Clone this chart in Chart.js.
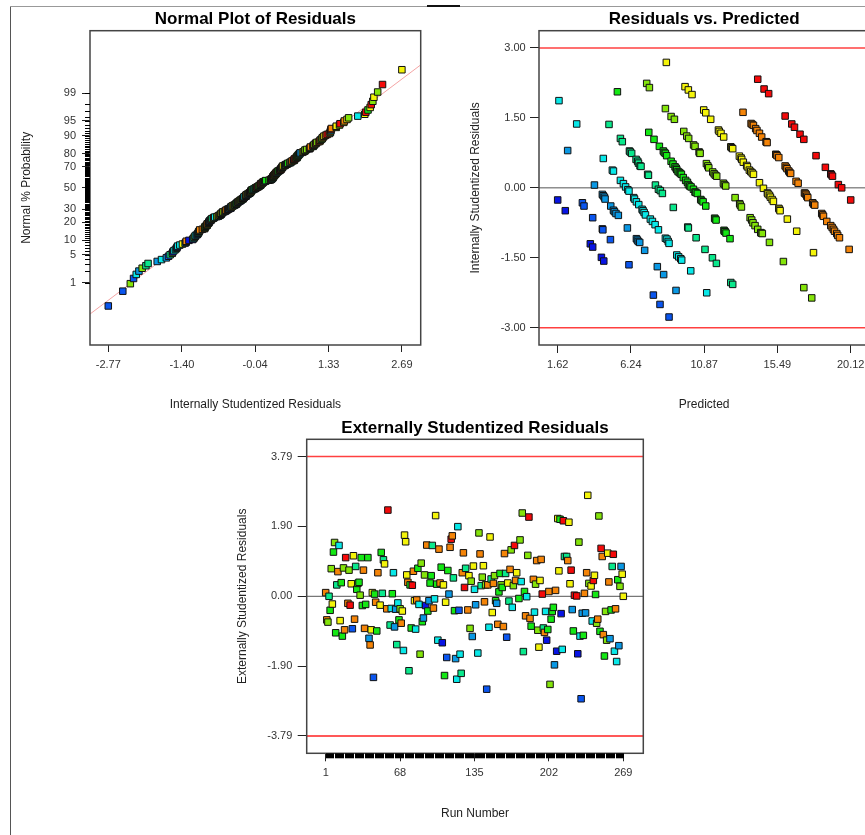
<!DOCTYPE html>
<html>
<head>
<meta charset="utf-8">
<script src="https://cdn.jsdelivr.net/npm/chart.js@4.4.1/dist/chart.umd.min.js"></script>
<style>
  html, body { margin: 0; padding: 0; background: #fff; overflow: hidden; }
  body { width: 865px; height: 835px; position: relative; }
  canvas { position: absolute; }
  .edge-left { position: absolute; left: 10px; top: 6px; width: 0; height: 829px; border-left: 1px solid #555; }
  .edge-top { position: absolute; left: 10px; top: 6px; width: 855px; height: 0; border-top: 1px solid #999; }
  .edge-mark { position: absolute; left: 427px; top: 5px; width: 33px; height: 2px; background: #111; }
</style>
</head>
<body>
<div class="edge-left"></div>
<div class="edge-top"></div>
<div class="edge-mark"></div>
<canvas id="normalChart" width="440" height="420" style="left:0;top:0;width:440px;height:420px"></canvas>
<canvas id="predChart" width="440" height="420" style="left:440px;top:0;width:440px;height:420px"></canvas>
<canvas id="runChart" width="430" height="425" style="left:230px;top:410px;width:430px;height:425px"></canvas>
<script>
// Colour of each response band (low -> high)
const bandColors = ['#0814e4', '#0a55ee', '#0a98e4', '#08e8e8', '#0ae88c', '#14e814', '#84e40a', '#f4f40a', '#f48408', '#f40a0a'];

// Residuals vs. Predicted, one list per band: [predicted, internally studentized residual]
const band0 = [[1.62,-0.26],[2.10,-0.49],[3.68,-1.20],[3.83,-1.27],[4.38,-1.49],[4.53,-1.57]];
const band1 = [[3.18,-0.32],[3.28,-0.39],[3.83,-0.64],[4.44,-0.88],[4.47,-0.90],[4.95,-1.11],[6.12,-1.65],[7.66,-2.30],[8.08,-2.50],[8.65,-2.77]];
const band2 = [[2.25,0.80],[3.94,0.06],[4.44,-0.14],[4.50,-0.17],[4.57,-0.20],[4.61,-0.24],[4.97,-0.39],[5.14,-0.48],[5.20,-0.51],[5.30,-0.55],
  [5.45,-0.59],[6.02,-0.86],[6.59,-1.09],[6.65,-1.12],[6.71,-1.15],[6.80,-1.17],[7.11,-1.34],[7.91,-1.69],[8.31,-1.86],[9.09,-2.20]];
const band3 = [[1.70,1.87],[2.82,1.37],[4.50,0.63],[5.07,0.38],[5.14,0.36],[5.58,0.16],[5.77,0.09],[5.91,0.02],[6.05,-0.04],[6.12,-0.07],
  [6.42,-0.21],[6.47,-0.24],[6.59,-0.30],[6.74,-0.36],[6.95,-0.46],[7.01,-0.49],[7.08,-0.53],[7.16,-0.58],[7.47,-0.67],[7.60,-0.72],
  [7.77,-0.79],[7.98,-0.90],[8.42,-1.08],[8.52,-1.10],[8.60,-1.15],[8.65,-1.19],[9.14,-1.44],[9.26,-1.48],[9.39,-1.52],[9.45,-1.55],
  [10.02,-1.78],[11.03,-2.25]];
const band4 = [[4.86,1.36],[5.58,1.06],[5.70,0.99],[6.15,0.79],[6.20,0.77],[6.29,0.74],[6.57,0.61],[6.67,0.57],[6.72,0.53],[6.82,0.47],
  [6.88,0.46],[7.30,0.29],[7.35,0.27],[7.79,0.06],[7.98,-0.03],[8.10,-0.06],[8.23,-0.12],[8.92,-0.42],[9.83,-0.84],[9.87,-0.86],
  [10.36,-1.07],[10.92,-1.32],[11.39,-1.50],[11.64,-1.62],[12.55,-2.03],[12.67,-2.07]];
const band5 = [[5.39,2.06],[7.37,1.19],[7.70,1.04],[8.04,0.89],[8.29,0.79],[8.35,0.76],[8.42,0.74],[8.50,0.69],[8.78,0.57],[8.90,0.51],
  [9.03,0.45],[9.10,0.42],[9.14,0.39],[9.22,0.35],[9.30,0.33],[9.37,0.31],[9.43,0.29],[9.55,0.22],[9.70,0.16],[9.81,0.12],
  [9.87,0.07],[9.95,0.04],[10.04,0.02],[10.19,-0.03],[10.29,-0.09],[10.35,-0.10],[10.44,-0.12],[10.65,-0.25],[10.70,-0.27],[10.80,-0.30],
  [10.97,-0.39],[11.53,-0.65],[11.57,-0.67],[11.62,-0.69],[12.12,-0.91],[12.15,-0.93],[12.19,-0.94],[12.25,-0.97],[12.50,-1.09]];
const band6 = [[7.24,2.24],[7.41,2.15],[8.42,1.70],[8.78,1.53],[8.99,1.47],[9.58,1.21],[9.77,1.11],[9.89,1.06],[10.20,0.92],[10.29,0.89],
  [10.55,0.77],[10.58,0.75],[10.61,0.74],[11.01,0.52],[11.10,0.47],[11.16,0.43],[11.41,0.34],[11.50,0.30],[11.58,0.27],[11.66,0.25],
  [12.08,0.10],[12.15,0.07],[12.23,0.04],[12.82,-0.21],[13.11,-0.34],[13.15,-0.37],[13.22,-0.41],[13.77,-0.64],[13.87,-0.69],[13.95,-0.75],
  [14.08,-0.81],[14.25,-0.89],[14.44,-0.96],[14.48,-0.97],[14.54,-0.98],[14.99,-1.17],[15.87,-1.58],[17.16,-2.14],[17.66,-2.36]];
const band7 = [[8.48,2.69],[9.66,2.17],[9.87,2.10],[10.10,2.00],[10.84,1.67],[10.97,1.61],[11.28,1.47],[11.77,1.24],[11.82,1.21],[11.93,1.17],
  [12.10,1.09],[12.55,0.88],[12.60,0.86],[12.67,0.84],[13.09,0.68],[13.20,0.64],[13.24,0.61],[13.34,0.55],[13.55,0.48],[13.60,0.45],
  [13.72,0.38],[13.81,0.35],[13.90,0.32],[13.98,0.29],[14.36,0.11],[14.61,-0.01],[14.86,-0.11],[14.90,-0.13],[14.99,-0.16],[15.05,-0.20],
  [15.16,-0.25],[15.24,-0.29],[15.58,-0.44],[15.62,-0.46],[15.66,-0.49],[16.12,-0.67],[16.71,-0.93],[17.77,-1.39]];
const band8 = [[13.32,1.62],[13.83,1.38],[13.90,1.36],[13.98,1.34],[14.12,1.27],[14.20,1.23],[14.36,1.17],[14.50,1.09],[14.78,0.99],[14.80,0.98],
  [14.84,0.97],[15.39,0.72],[15.43,0.71],[15.47,0.69],[15.58,0.65],[15.98,0.47],[16.05,0.44],[16.10,0.41],[16.21,0.36],[16.27,0.33],
  [16.33,0.31],[16.67,0.14],[16.80,0.10],[17.20,-0.11],[17.25,-0.12],[17.30,-0.14],[17.35,-0.18],[17.41,-0.21],[17.72,-0.32],[17.78,-0.35],
  [17.85,-0.37],[18.29,-0.55],[18.35,-0.58],[18.40,-0.61],[18.61,-0.72],[18.86,-0.81],[18.95,-0.85],[19.03,-0.89],[19.10,-0.93],[19.24,-0.98],
  [19.30,-1.02],[19.41,-1.07],[20.02,-1.32]];
const band9 = [[14.25,2.33],[14.65,2.12],[14.94,2.02],[15.98,1.54],[16.40,1.37],[16.57,1.30],[16.92,1.15],[17.16,1.04],[17.93,0.69],[18.52,0.44],
  [18.86,0.30],[18.90,0.28],[18.97,0.25],[19.34,0.07],[19.55,0.00],[20.12,-0.26]];
const bands = [band0, band1, band2, band3, band4, band5, band6, band7, band8, band9];

// Externally studentized residuals by run order, with the band of each run
const runNumbers = [1,2,3,4,5,6,7,8,9,10,11,12,13,14,15,16,17,18,19,21,22,23,24,25,26,27,28,29,30,31,32,33,34,35,36,37,39,40,41,42,
  43,44,45,46,47,48,50,51,52,53,54,56,57,59,60,61,62,63,64,65,66,67,68,69,70,71,72,73,74,75,76,77,78,79,80,81,82,83,84,85,
  86,87,88,89,90,91,92,93,94,95,96,97,98,99,100,101,102,103,104,105,106,107,108,109,110,111,112,113,114,115,116,117,118,119,120,121,122,123,124,125,
  126,127,129,130,131,132,133,134,135,136,138,139,140,141,142,143,144,145,146,147,148,149,150,151,152,153,154,155,156,157,158,159,160,161,162,163,164,165,166,167,
  168,169,170,171,172,173,175,176,177,178,179,180,181,182,183,184,185,186,188,189,190,191,192,193,194,195,196,197,198,199,200,201,202,203,204,205,206,207,208,209,
  210,211,212,213,214,215,216,218,219,220,221,222,223,224,225,227,228,229,230,231,232,233,234,235,236,237,238,240,241,242,243,244,245,246,247,248,249,250,251,252,
  253,254,255,256,257,258,259,260,261,262,263,264,265,266,267,268,269];
const extResiduals = [0.10,-0.64,-0.70,0.00,-0.38,0.75,-0.21,1.20,1.46,-0.99,0.31,0.67,1.38,-0.66,0.37,-1.08,0.77,-0.91,1.05,-0.19,0.71,-0.24,0.34,-0.88,1.10,-0.62,0.81,0.19,0.35,0.38,0.03,1.05,-0.25,0.71,-0.87,-0.22,1.05,-1.14,-1.32,-0.91,
  0.10,-2.20,0.06,-0.16,-0.94,0.64,-0.24,1.19,0.08,0.99,0.88,-0.34,2.34,-0.78,-0.33,0.07,0.64,-0.83,-0.35,-1.31,-0.18,-0.64,-0.34,-0.73,-0.40,-1.47,1.66,1.48,0.58,0.38,-2.02,0.31,-0.86,0.30,0.68,-0.12,-0.89,-0.10,0.76,-0.22,
  -1.57,0.90,-0.69,-0.59,0.58,-0.25,1.39,-0.40,-0.12,0.36,0.56,1.38,-0.32,-0.07,2.19,0.33,-1.19,1.28,0.36,0.79,-1.26,0.31,-2.15,-0.16,-1.66,0.70,0.06,1.33,1.55,1.64,0.50,-0.39,-1.69,-2.25,1.89,-0.38,-1.57,-2.09,0.64,1.18,
  0.24,0.76,-0.37,0.56,-0.87,0.41,-1.09,0.82,0.19,-0.23,-1.54,1.72,1.15,0.29,0.52,0.83,-0.15,0.31,-2.52,0.31,-0.84,1.61,0.47,-0.44,0.35,0.56,-0.12,-0.19,-0.76,0.12,0.62,0.31,0.24,-0.82,1.16,0.62,-1.11,0.36,-0.13,0.73,
  1.26,-0.30,0.29,1.38,0.43,0.64,-0.06,1.53,0.40,2.26,-1.50,0.13,-0.53,-0.01,1.11,2.15,-0.60,-0.81,0.46,-0.43,0.33,0.97,-0.92,-1.38,0.43,1.00,0.06,-0.86,-0.98,-0.41,-1.19,-0.90,0.13,-2.39,-0.62,-0.41,-0.30,-1.86,0.16,-1.49,
  2.11,0.69,2.09,-0.47,-1.44,2.05,1.08,1.08,0.97,2.01,0.34,0.71,-0.36,-0.94,0.03,0.01,-1.56,1.47,-1.08,-2.78,-0.46,-1.06,0.08,-0.45,0.64,2.74,0.35,0.28,-0.67,0.43,0.57,0.05,-0.73,-0.62,2.18,-0.95,1.30,1.08,-1.04,-1.62,
  -0.41,-1.19,1.17,0.39,-1.15,-0.37,0.81,1.14,-1.49,-0.34,-1.77,0.45,-1.34,0.27,0.81,0.60,0.00];
const runBands = [8,8,6,4,5,6,7,5,6,5,4,8,3,7,5,5,6,8,9,8,6,9,7,1,7,8,4,5,6,5,6,5,5,8,8,5,5,2,8,7,
  7,1,5,8,5,8,7,5,4,4,7,8,9,4,3,5,3,2,2,4,3,5,6,8,7,3,7,7,7,8,4,5,5,9,8,7,3,8,5,3,
  6,6,5,2,6,0,8,5,2,5,5,4,8,3,7,5,3,8,8,5,0,7,5,7,1,5,2,8,9,8,4,5,2,3,3,1,3,4,8,8,
  9,4,8,7,6,6,2,7,3,2,3,6,8,4,6,7,8,6,1,8,3,7,4,7,8,6,5,2,8,5,5,6,5,8,8,4,1,7,4,8,
  6,3,6,9,8,7,5,6,3,6,4,5,8,3,6,9,8,5,8,3,6,8,6,7,7,8,9,4,8,3,0,5,8,6,5,5,5,2,8,0,
  7,7,5,0,3,9,4,4,8,7,7,9,2,5,9,9,0,6,3,1,2,5,8,2,8,7,6,7,3,9,7,5,6,8,6,5,9,8,8,5,
  6,6,7,8,2,5,4,9,3,8,3,5,2,6,2,7,7];

// Axis ticks
const normalXTicks = [-2.77, -1.40, -0.04, 1.33, 2.69];
const probabilityTicks = [1, 5, 10, 20, 30, 50, 70, 80, 90, 95, 99];
const predictedTicks = [1.62, 6.24, 10.87, 15.49, 20.12];
const internalTicks = [-3.00, -1.50, 0.00, 1.50, 3.00];
const runTicks = [1, 68, 135, 202, 269];
const externalTicks = [-3.79, -1.90, 0.00, 1.90, 3.79];
const internalLimit = 3.00;
const externalLimit = 3.79;

Chart.defaults.font.family = '"Liberation Sans", Arial, sans-serif';
Chart.defaults.color = '#333';

// Inverse of the standard normal CDF (Acklam)
function normInv(p) {
    const a = [-39.69683028665376, 220.9460984245205, -275.9285104469687, 138.3577518672690, -30.66479806614716, 2.506628277459239];
    const b = [-54.47609879822406, 161.5858368580409, -155.6989798598866, 66.80131188771972, -13.28068155288572];
    const c = [-0.007784894002430293, -0.3223964580411365, -2.400758277161838, -2.549732539343734, 4.374664141464968, 2.938163982698783];
    const d = [0.007784695709041462, 0.3224671290700398, 2.445134137142996, 3.754408661907416];
    const lo = 0.02425;
    let q, r;
    if (p < lo) {
        q = Math.sqrt(-2 * Math.log(p));
        return (((((c[0]*q+c[1])*q+c[2])*q+c[3])*q+c[4])*q+c[5]) / ((((d[0]*q+d[1])*q+d[2])*q+d[3])*q+1);
    }
    if (p > 1 - lo) {
        q = Math.sqrt(-2 * Math.log(1 - p));
        return -(((((c[0]*q+c[1])*q+c[2])*q+c[3])*q+c[4])*q+c[5]) / ((((d[0]*q+d[1])*q+d[2])*q+d[3])*q+1);
    }
    q = p - 0.5;
    r = q * q;
    return (((((a[0]*r+a[1])*r+a[2])*r+a[3])*r+a[4])*r+a[5])*q / (((((b[0]*r+b[1])*r+b[2])*r+b[3])*r+b[4])*r+1);
}

// Draws the dark frame around the plot area
const framePlugin = {
    id: 'frame',
    afterDraw(chart) {
        const { ctx, chartArea: a } = chart;
        ctx.save();
        ctx.strokeStyle = '#444';
        ctx.lineWidth = 1.5;
        ctx.strokeRect(a.left, a.top, a.right - a.left, a.bottom - a.top);
        ctx.restore();
    }
};

// Short minor ticks: every percent on the probability axis, every run on the run axis
const minorTickPlugin = {
    id: 'minorTicks',
    afterDraw(chart, args, opts) {
        if (!opts.values) return;
        const { ctx, chartArea: a } = chart;
        const scale = chart.scales[opts.axis];
        ctx.save();
        ctx.strokeStyle = '#000';
        ctx.lineWidth = 1;
        ctx.beginPath();
        opts.values.forEach(v => {
            // snap to the pixel grid so the marks stay crisp and dark
            const p = Math.round(scale.getPixelForValue(v)) + 0.5;
            if (opts.axis === 'y') {
                ctx.moveTo(a.left - opts.length, p);
                ctx.lineTo(a.left, p);
            } else {
                ctx.moveTo(p, a.bottom);
                ctx.lineTo(p, a.bottom + opts.length);
            }
        });
        ctx.stroke();
        ctx.restore();
    }
};

function squarePoints(color) {
    return {
        pointStyle: 'rect',
        pointRadius: 4.6,
        pointBackgroundColor: color,
        pointBorderColor: '#111',
        pointBorderWidth: 1,
        showLine: false
    };
}

function flatLine(y, xMin, xMax, color, width) {
    return {
        data: [{ x: xMin, y: y }, { x: xMax, y: y }],
        showLine: true,
        borderColor: color,
        borderWidth: width,
        pointRadius: 0,
        order: 10
    };
}

function axisOptions(opt) {
    return {
        type: 'linear',
        min: opt.min,
        max: opt.max,
        afterBuildTicks: s => { s.ticks = opt.ticks.map(v => ({ value: v })); },
        afterFit: s => { if (opt.width) s.width = opt.width; if (opt.height) s.height = opt.height; },
        grid: { display: true, drawOnChartArea: false, drawTicks: true, tickLength: opt.tickLength, tickColor: '#222', tickWidth: 1 },
        border: { display: false },
        ticks: {
            autoSkip: false,
            maxRotation: 0,
            padding: opt.padding,
            font: { size: 11 },
            color: '#333',
            callback: opt.label
        },
        title: {
            display: true,
            text: opt.title,
            color: '#222',
            font: { size: 12 },
            padding: opt.titlePadding
        }
    };
}

function baseOptions(titleText, titlePadding, layoutPadding) {
    return {
        responsive: false,
        animation: false,
        devicePixelRatio: 1,
        layout: { padding: layoutPadding },
        plugins: {
            legend: { display: false },
            tooltip: { enabled: false },
            title: {
                display: true,
                text: titleText,
                fullSize: false,
                color: '#000',
                font: { size: 17, weight: 'bold' },
                padding: titlePadding
            }
        }
    };
}

// ---- Normal plot of residuals ----
const sortedResiduals = [];
bands.forEach((band, k) => band.forEach(p => sortedResiduals.push({ r: p[1], k: k })));
sortedResiduals.sort((a, b) => a.r - b.r);
const nRes = sortedResiduals.length;
const normalPoints = sortedResiduals.map((p, i) => ({ x: p.r, y: normInv((i + 0.5) / nRes) }));
const normalColors = sortedResiduals.map(p => bandColors[p.k]);
const percentMinor = [];
for (let p = 1; p <= 99; p++) percentMinor.push(normInv(p / 100));

const normalOpts = baseOptions('Normal Plot of Residuals', { top: 9.3, bottom: 1 }, { left: 0, right: 19.3, top: 0, bottom: 0 });
normalOpts.scales = {
    x: axisOptions({ min: -3.11, max: 3.04, ticks: normalXTicks, height: 75, tickLength: 7, padding: 6,
        label: v => v.toFixed(2), title: 'Internally Studentized Residuals', titlePadding: { top: 0, bottom: 7.8 } }),
    y: axisOptions({ min: -3.86, max: 3.86, ticks: probabilityTicks.map(p => normInv(p / 100)), width: 90, tickLength: 8, padding: 6,
        label: (v, i) => String(probabilityTicks[i]), title: 'Normal % Probability', titlePadding: { top: 19.8, bottom: 0 } })
};
normalOpts.plugins.minorTicks = { axis: 'y', values: percentMinor, length: 5 };

new Chart(document.getElementById('normalChart'), {
    type: 'scatter',
    data: {
        datasets: [
            Object.assign({ data: normalPoints }, squarePoints(normalColors)),
            {
                data: [{ x: -3.11, y: -3.10 }, { x: 3.04, y: 3.02 }],
                showLine: true, borderColor: '#f4a4a4', borderWidth: 1, pointRadius: 0, order: 10
            }
        ]
    },
    options: normalOpts,
    plugins: [framePlugin, minorTickPlugin]
});

// ---- Residuals vs. Predicted ----
const predOpts = baseOptions('Residuals vs. Predicted', { top: 9.3, bottom: 1 }, { left: 0, right: 10.6, top: 0, bottom: 0 });
predOpts.scales = {
    x: axisOptions({ min: 0.44, max: 21.3, ticks: predictedTicks, height: 75, tickLength: 8, padding: 5,
        label: v => v.toFixed(2), title: 'Predicted', titlePadding: { top: 0, bottom: 7.8 } }),
    y: axisOptions({ min: -3.37, max: 3.37, ticks: internalTicks, width: 99, tickLength: 9, padding: 4.3,
        label: v => v.toFixed(2), title: 'Internally Studentized Residuals', titlePadding: { top: 28.8, bottom: 0 } })
};
const predDatasets = bands.map((band, k) => Object.assign(
    { data: band.map(p => ({ x: p[0], y: p[1] })) }, squarePoints(bandColors[k])));
predDatasets.push(flatLine(internalLimit, 0.44, 21.3, '#ff4040', 1.5));
predDatasets.push(flatLine(-internalLimit, 0.44, 21.3, '#ff4040', 1.5));
predDatasets.push(flatLine(0, 0.44, 21.3, '#555', 1));

new Chart(document.getElementById('predChart'), {
    type: 'scatter',
    data: { datasets: predDatasets },
    options: predOpts,
    plugins: [framePlugin]
});

// ---- Externally Studentized Residuals vs run ----
const runOpts = baseOptions('Externally Studentized Residuals', { top: 7.8, bottom: 1.1 }, { left: 0, right: 16.7, top: 0, bottom: 0 });
runOpts.scales = {
    x: axisOptions({ min: -16.1, max: 287, ticks: runTicks, height: 81.7, tickLength: 8, padding: 5,
        label: v => String(v), title: 'Run Number', titlePadding: { top: 0, bottom: 14.5 } }),
    y: axisOptions({ min: -4.26, max: 4.26, ticks: externalTicks, width: 76.7, tickLength: 9, padding: 5.4,
        label: v => v.toFixed(2), title: 'Externally Studentized Residuals', titlePadding: { top: 5.8, bottom: 0 } })
};
const allRuns = [];
for (let r = 1; r <= 269; r++) allRuns.push(r);
runOpts.plugins.minorTicks = { axis: 'x', values: allRuns, length: 5 };

new Chart(document.getElementById('runChart'), {
    type: 'scatter',
    data: {
        datasets: [
            Object.assign({ data: runNumbers.map((r, i) => ({ x: r, y: extResiduals[i] })) },
                squarePoints(runBands.map(k => bandColors[k]))),
            flatLine(externalLimit, -16.1, 287, '#ff4040', 1.5),
            flatLine(-externalLimit, -16.1, 287, '#ff2020', 1.5),
            flatLine(0, -16.1, 287, '#555', 1)
        ]
    },
    options: runOpts,
    plugins: [framePlugin, minorTickPlugin]
});
</script>
</body>
</html>
